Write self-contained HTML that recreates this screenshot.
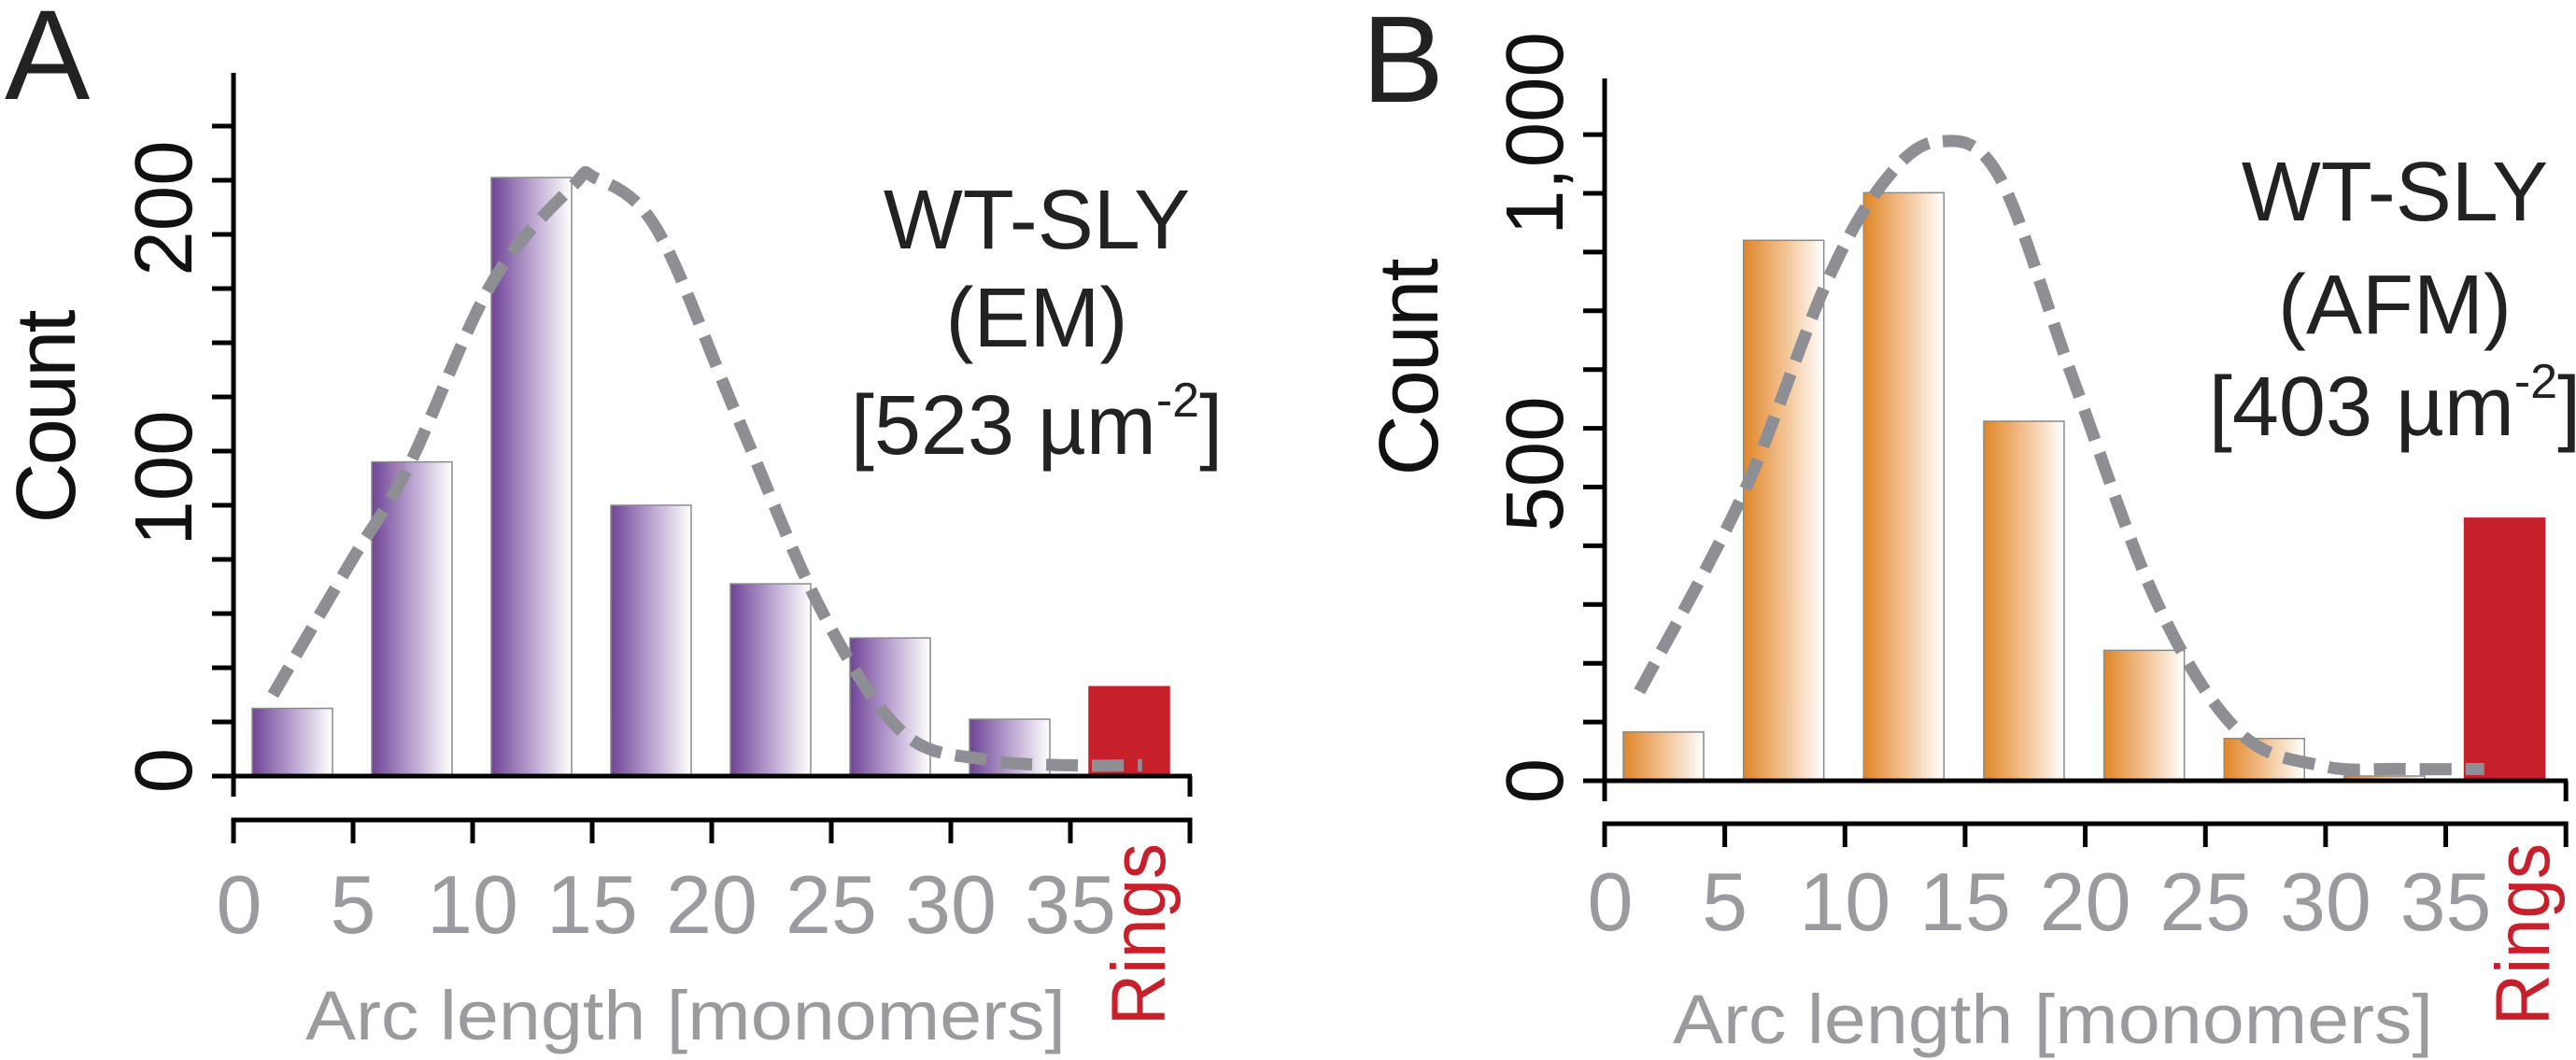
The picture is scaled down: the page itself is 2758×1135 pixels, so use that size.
<!DOCTYPE html>
<html><head><meta charset="utf-8"><style>
html,body{margin:0;padding:0;background:#fff;}
svg{display:block;}
text{font-family:"Liberation Sans",sans-serif;}
</style></head><body>
<svg id="fig" width="2758" height="1135" viewBox="0 0 2758 1135" xmlns="http://www.w3.org/2000/svg">
<defs>
<linearGradient id="gp" x1="0" x2="1" y1="0" y2="0"><stop offset="0" stop-color="#6f4396"/><stop offset="0.5" stop-color="#b9a2cf"/><stop offset="1" stop-color="#ffffff"/></linearGradient>
<linearGradient id="go" x1="0" x2="1" y1="0" y2="0"><stop offset="0" stop-color="#e08628"/><stop offset="0.5" stop-color="#f2c18f"/><stop offset="1" stop-color="#ffffff"/></linearGradient>
</defs>
<text x="5" y="106" font-size="137" fill="#222">A</text>
<text x="1458" y="109" font-size="132" fill="#222">B</text>
<text transform="translate(80,446) rotate(-90)" text-anchor="middle" font-size="90" fill="#111" textLength="229">Count</text>
<text transform="translate(1539,393) rotate(-90)" text-anchor="middle" font-size="90" fill="#111" textLength="233">Count</text>
<g font-size="90" fill="#222" text-anchor="middle">
<text x="1110" y="266">WT-SLY</text><text x="1110" y="371">(EM)</text>
<text x="1110" y="486">[523 µm<tspan font-size="52" dy="-40">-2</tspan><tspan dy="40">]</tspan></text>
</g>
<g font-size="90" fill="#222" text-anchor="middle">
<text x="2564" y="236">WT-SLY</text><text x="2564" y="357">(AFM)</text>
<text x="2564" y="466">[403 µm<tspan font-size="52" dy="-40">-2</tspan><tspan dy="40">]</tspan></text>
</g>
<g id="pa"></g><g id="pb"></g>
</svg>
<script>
// Panel A data (EM)
const catsA = ["0-5","5-10","10-15","15-20","20-25","25-30","30-35","Rings"];
const valsA = [25, 116, 221, 100, 71, 51, 21, 33];
const fitXA = [1.65, 4.9, 7.3, 10.8, 14.2, 15.1, 17.7, 21.1, 24.6, 28, 31.5, 34.9, 38];
const fitYA = [30, 79, 114, 182, 218, 221, 202, 132, 61, 16, 6, 4, 4];
const yTicksA = [0, 100, 200];
// Panel B data (AFM)
const catsB = ["0-5","5-10","10-15","15-20","20-25","25-30","30-35","Rings"];
const valsB = [83, 920, 1001, 612, 222, 72, 8, 447];
const fitXB = [1.45, 5.75, 9.2, 11.6, 13.85, 16.4, 19.5, 23, 26.4, 29.9, 33, 36.6];
const fitYB = [152, 487, 845, 1018, 1088, 1030, 683, 302, 83, 25, 20, 20];
const yTicksB = [0, 500, 1000];
const yTickLabelsB = ["0", "500", "1,000"];
const xTickLabels = ["0","5","10","15","20","25","30","35"];

const NS = "http://www.w3.org/2000/svg";
function mk(parent, tag, attrs){const e=document.createElementNS(NS,tag);for(const k in attrs)e.setAttribute(k,attrs[k]);parent.appendChild(e);return e;}

function panel(g, cfg){
  const X = u => cfg.ox + u*cfg.ppu;
  const Y = v => cfg.zeroY - v*cfg.ypp;
  cfg.vals.forEach((v,i)=>{
    const ring = i===cfg.vals.length-1;
    const r = mk(g,'rect',{x:X(i*5)+20,y:Y(v),width:86,height:cfg.zeroY-Y(v),fill:ring?'#c8202a':cfg.grad,stroke:ring?'#c8202a':'#8a8a8a','stroke-width':1.5});
    
    
  });
  const pts = cfg.fx.map((x,i)=>[X(x),Y(cfg.fy[i])]);
  let d = 'M'+pts[0][0]+','+pts[0][1];
  for(let i=0;i<pts.length-1;i++){
    const p0=pts[Math.max(0,i-1)],p1=pts[i],p2=pts[i+1],p3=pts[Math.min(pts.length-1,i+2)];
    d+=' C'+(p1[0]+(p2[0]-p0[0])/6)+','+(p1[1]+(p2[1]-p0[1])/6)+' '+(p2[0]-(p3[0]-p1[0])/6)+','+(p2[1]-(p3[1]-p1[1])/6)+' '+p2[0]+','+p2[1];
  }
  const c = mk(g,'path',{d:d,fill:'none',stroke:'#8e8f94','stroke-width':13,'stroke-dasharray':'34 15'});
  
  
  const ya = mk(g,'line',{x1:cfg.ox,x2:cfg.ox,y1:cfg.top,y2:cfg.zeroY+22,stroke:'#000','stroke-width':5});
  
  
  const xr = X(40);
  const za = mk(g,'line',{x1:cfg.ox-23,x2:xr+2,y1:cfg.zeroY,y2:cfg.zeroY,stroke:'#000','stroke-width':5});
  
  
  mk(g,'line',{x1:xr,x2:xr,y1:cfg.zeroY,y2:cfg.zeroY+22,stroke:'#000','stroke-width':5});
  for(let v=cfg.minor; v<=cfg.maxTick; v+=cfg.minor){
    mk(g,'line',{x1:cfg.ox-23,x2:cfg.ox,y1:Y(v),y2:Y(v),stroke:'#000','stroke-width':5});
  }
  cfg.yt.forEach((v,i)=>{
    const t = mk(g,'text',{transform:'translate('+(cfg.ox-45)+','+cfg.ylabY[i]+') rotate(-90)','text-anchor':'middle','font-size':87,fill:'#111'});
    t.textContent = cfg.ytl[i];
    
    
  });
  const xa = mk(g,'path',{d:'M'+cfg.ox+','+(cfg.xaY+25)+' V'+cfg.xaY+' H'+xr+' V'+(cfg.xaY+25),fill:'none',stroke:'#000','stroke-width':5});
  
  
  for(let i=1;i<8;i++) mk(g,'line',{x1:X(i*5),x2:X(i*5),y1:cfg.xaY,y2:cfg.xaY+25,stroke:'#000','stroke-width':5});
  xTickLabels.forEach((s,i)=>{
    const t = mk(g,'text',{x:X(i*5)+(i===0?6:0),y:cfg.xlabY,'text-anchor':'middle','font-size':88,fill:'#9a9a9f'});
    t.textContent = s;
    
    
  });
  const at = mk(g,'text',{x:cfg.arcX,y:cfg.arcY,'font-size':74,fill:'#9a9a9f',textLength:814,lengthAdjust:'spacingAndGlyphs'});
  at.textContent = 'Arc length [monomers]';
  
  
  const rt = mk(g,'text',{transform:'translate('+cfg.ringX+','+cfg.ringY+') rotate(-90)','font-size':82,fill:'#c8202a',textLength:195,lengthAdjust:'spacingAndGlyphs'});
  rt.textContent = 'Rings';
  
  
}

panel(document.getElementById('pa'), {ox:250, ppu:25.6, zeroY:831, ypp:2.9, top:78, minor:20, maxTick:240,
  vals:valsA, cats:catsA, grad:'url(#gp)', fx:fitXA, fy:fitYA, yt:yTicksA, ytl:yTicksA.map(String), ylabY:[825,512,223],
  xaY:878, xlabY:999, arcX:327, arcY:1113, ringX:1247, ringY:1098});
panel(document.getElementById('pb'), {ox:1718, ppu:25.73, zeroY:836, ypp:0.629, top:84, minor:100, maxTick:1100,
  vals:valsB, cats:catsB, grad:'url(#go)', fx:fitXB, fy:fitYB, yt:yTicksB, ytl:yTickLabelsB, ylabY:[836,497,143],
  xaY:882, xlabY:996, arcX:1791, arcY:1117, ringX:2729, ringY:1098});
document.getElementById('pa');
document.getElementById('pa');
document.getElementById('pb');
document.getElementById('pb');
</script>
</body></html>
